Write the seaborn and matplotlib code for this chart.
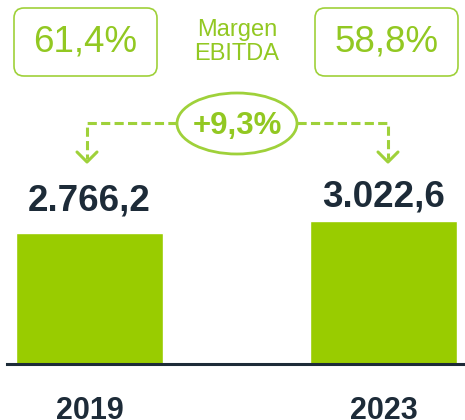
import matplotlib
matplotlib.use("Agg")
import matplotlib.pyplot as plt
from matplotlib.patches import FancyBboxPatch, Ellipse
import pandas as pd
import seaborn as sns

# Data
years = ["2019", "2023"]
ebitda = [2766.2, 3022.6]
value_labels = ["2.766,2", "3.022,6"]
margins = ["61,4%", "58,8%"]
margin_title = "Margen\nEBITDA"
growth = "+9,3%"

BAR = "#99CC00"
GREEN = "#92C822"
LINE = "#9FD13A"
DARK = "#1D2B38"

sns.set_theme(style="white")
plt.rcParams["font.family"] = ["Liberation Sans", "DejaVu Sans"]

df = pd.DataFrame({"year": years, "ebitda": ebitda})

fig = plt.figure(figsize=(4.65, 4.2), dpi=100)
ax = fig.add_axes([7 / 465, 56 / 420, 458 / 465, 364 / 420])
sns.barplot(data=df, x="year", y="ebitda", color=BAR, width=0.5,
            saturation=1, ax=ax)
ax.set_xlim(-0.2806, 1.277)
ax.set_ylim(0, 7686)
for s in ["top", "right", "left"]:
    ax.spines[s].set_visible(False)
ax.spines["bottom"].set_color(DARK)
ax.spines["bottom"].set_linewidth(2.2)
ax.set_yticks([])
ax.set_xlabel("")
ax.set_ylabel("")
ax.tick_params(axis="x", length=0, pad=23)
for t in ax.get_xticklabels():
    t.set_fontsize(22)
    t.set_fontweight("bold")
    t.set_color(DARK)

# value labels above bars
label_offsets = [16, 10.5]
for i, (v, lab) in enumerate(zip(ebitda, value_labels)):
    ax.annotate(lab, (i, v), xytext=(0, label_offsets[i]),
                textcoords="offset points", ha="center", va="baseline",
                fontsize=26.5, fontweight="bold", color=DARK)

# overlay in pixel coordinates for the header
ov = fig.add_axes([0, 0, 1, 1], facecolor="none")
ov.set_xlim(0, 465)
ov.set_ylim(420, 0)
ov.axis("off")

box_x = [14, 315]
for bx, m in zip(box_x, margins):
    ov.add_patch(FancyBboxPatch((bx, 8), 143, 68,
                                boxstyle="round,pad=0,rounding_size=10",
                                fill=False, edgecolor=LINE, linewidth=1.2))
    ov.text(bx + 71.5, 42, m, ha="center", va="center", fontsize=26.5,
            color=GREEN)

ov.text(237, 42, margin_title, ha="center", va="center", fontsize=17,
        color=GREEN, linespacing=1.15)

ov.add_patch(Ellipse((237, 123.5), 120, 61, fill=False, edgecolor=LINE,
                     linewidth=2))
ov.text(237, 126, growth, ha="center", va="center", fontsize=22.5,
        fontweight="bold", color=GREEN)

# dashed connectors with chevrons
for x_end, x_start in [(87, 177), (388, 297)]:
    ln, = ov.plot([x_start, x_end, x_end], [123, 123, 159], color=LINE,
                  linewidth=2.2)
    ln.set_dashes((3, 1.4))
    ov.plot([x_end - 10, x_end, x_end + 10], [152, 162, 152], color=LINE,
            linewidth=2.2, solid_capstyle="round")

fig.savefig("out.png", dpi=100)
